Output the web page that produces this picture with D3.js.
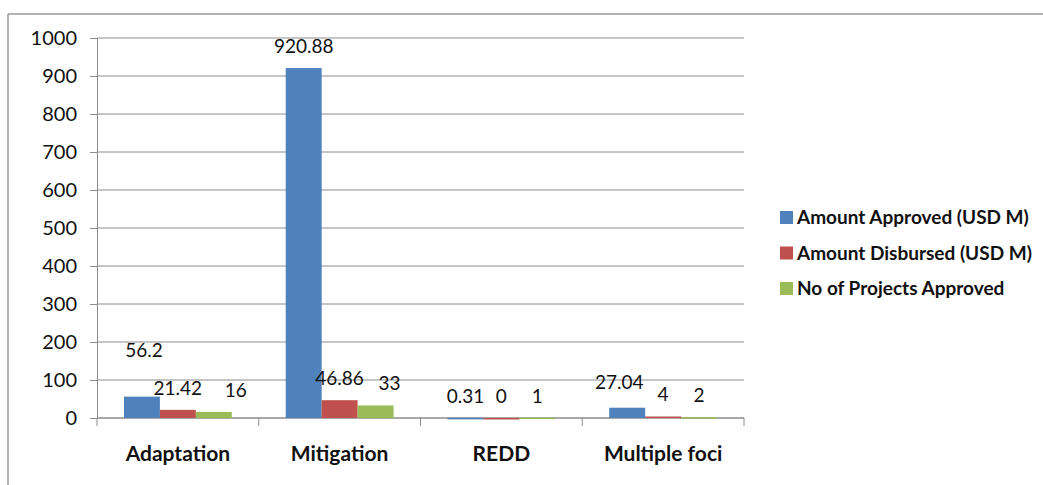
<!DOCTYPE html>
<html>
<head>
<meta charset="utf-8">
<script src="https://cdn.jsdelivr.net/npm/d3@7"></script>
<style>
  body { margin: 0; background: #fff; }
  svg { display: block; font-family: Lato, "Open Sans", sans-serif; }
</style>
</head>
<body>
<svg id="chart" width="1043" height="485"></svg>
<script>
var categories = ['Adaptation', 'Mitigation', 'REDD', 'Multiple foci'];
var seriesNames = ['Amount Approved (USD M)', 'Amount Disbursed (USD M)', 'No of Projects Approved'];
var approved = [56.2, 920.88, 0.31, 27.04];
var disbursed = [21.42, 46.86, 0, 4];
var projects = [16, 33, 1, 2];
var yTicks = [0, 100, 200, 300, 400, 500, 600, 700, 800, 900, 1000];

var colors = ['#4f81bd', '#c0504d', '#9bbb59'];
var series = [approved, disbursed, projects];

var svg = d3.select('#chart');

// frame (only top and left edges show in the picture)
svg.append('line').attr('x1', 8).attr('y1', 14).attr('x2', 1043).attr('y2', 14)
    .attr('stroke', '#9a9a9a').attr('stroke-width', 1.5);
svg.append('line').attr('x1', 8).attr('y1', 14).attr('x2', 8).attr('y2', 485)
    .attr('stroke', '#9a9a9a').attr('stroke-width', 1.5);

var plot = { left: 97, right: 744, top: 38, bottom: 418 };

var x = d3.scaleBand().domain(categories).range([plot.left, plot.right]);
var x1 = d3.scaleBand().domain(d3.range(3))
    .range([0, x.bandwidth()]).paddingOuter(0.75).paddingInner(0);
var y = d3.scaleLinear().domain([0, 1000]).range([plot.bottom, plot.top]);

// gridlines
svg.append('g').selectAll('line').data(yTicks).join('line')
    .attr('x1', plot.left).attr('x2', plot.right)
    .attr('y1', function (d) { return y(d); }).attr('y2', function (d) { return y(d); })
    .attr('stroke', '#8c8c8c').attr('stroke-width', 1);

// y axis
var yAxis = svg.append('g').attr('transform', 'translate(' + plot.left + ',0)')
    .call(d3.axisLeft(y).tickValues(yTicks).tickFormat(d3.format('d')).tickSize(7).tickPadding(13));
yAxis.select('.domain').attr('stroke', '#8c8c8c');
yAxis.selectAll('.tick line').attr('stroke', '#8c8c8c');
yAxis.selectAll('.tick text').attr('font-size', 20).attr('fill', '#111')
    .attr('font-family', 'Lato, sans-serif');

// x axis: ticks at category boundaries
var bounds = categories.map(function (c) { return x(c); }).concat([plot.right]);
svg.append('line').attr('x1', plot.left).attr('x2', plot.right)
    .attr('y1', plot.bottom).attr('y2', plot.bottom).attr('stroke', '#8c8c8c');
svg.append('g').selectAll('line').data(bounds).join('line')
    .attr('x1', function (d) { return d; }).attr('x2', function (d) { return d; })
    .attr('y1', plot.bottom).attr('y2', plot.bottom + 8).attr('stroke', '#8c8c8c');
svg.append('g').selectAll('text').data(categories).join('text')
    .attr('x', function (d) { return x(d) + x.bandwidth() / 2; })
    .attr('y', 461)
    .attr('text-anchor', 'middle')
    .attr('font-size', 21).attr('font-weight', 'bold').attr('fill', '#111')
    .text(function (d) { return d; });

// bars
var groups = svg.append('g').selectAll('g').data(categories).join('g')
    .attr('transform', function (d) { return 'translate(' + x(d) + ',0)'; });

groups.each(function (cat, ci) {
    var g = d3.select(this);
    series.forEach(function (vals, si) {
        var v = vals[ci];
        g.append('rect')
            .attr('x', x1(si)).attr('width', x1.bandwidth())
            .attr('y', y(v)).attr('height', Math.max(plot.bottom - y(v), 1.5))
            .attr('fill', colors[si]);
    });
});

// data labels, a few were dragged in the original
var nudge = { '0-0': [2, -25], '0-2': [22, 0], '3-0': [-8, -4], '1-2': [14, 0] };
groups.each(function (cat, ci) {
    var g = d3.select(this);
    series.forEach(function (vals, si) {
        var v = vals[ci];
        var n = nudge[ci + '-' + si] || [0, 0];
        g.append('text')
            .attr('x', x1(si) + x1.bandwidth() / 2 + n[0])
            .attr('y', y(v) - 15 + n[1])
            .attr('text-anchor', 'middle')
            .attr('font-size', 19).attr('fill', '#111')
            .text(v);
    });
});

// legend
var legend = svg.append('g').attr('transform', 'translate(780,217)');
seriesNames.forEach(function (name, i) {
    var row = legend.append('g').attr('transform', 'translate(0,' + (i * 35.5) + ')');
    row.append('rect').attr('x', 0).attr('y', -6).attr('width', 13).attr('height', 13)
        .attr('fill', colors[i]);
    row.append('text').attr('x', 17).attr('y', 7)
        .attr('font-size', 19).attr('font-weight', 'bold').attr('fill', '#111')
        .text(name);
});
</script>
</body>
</html>
